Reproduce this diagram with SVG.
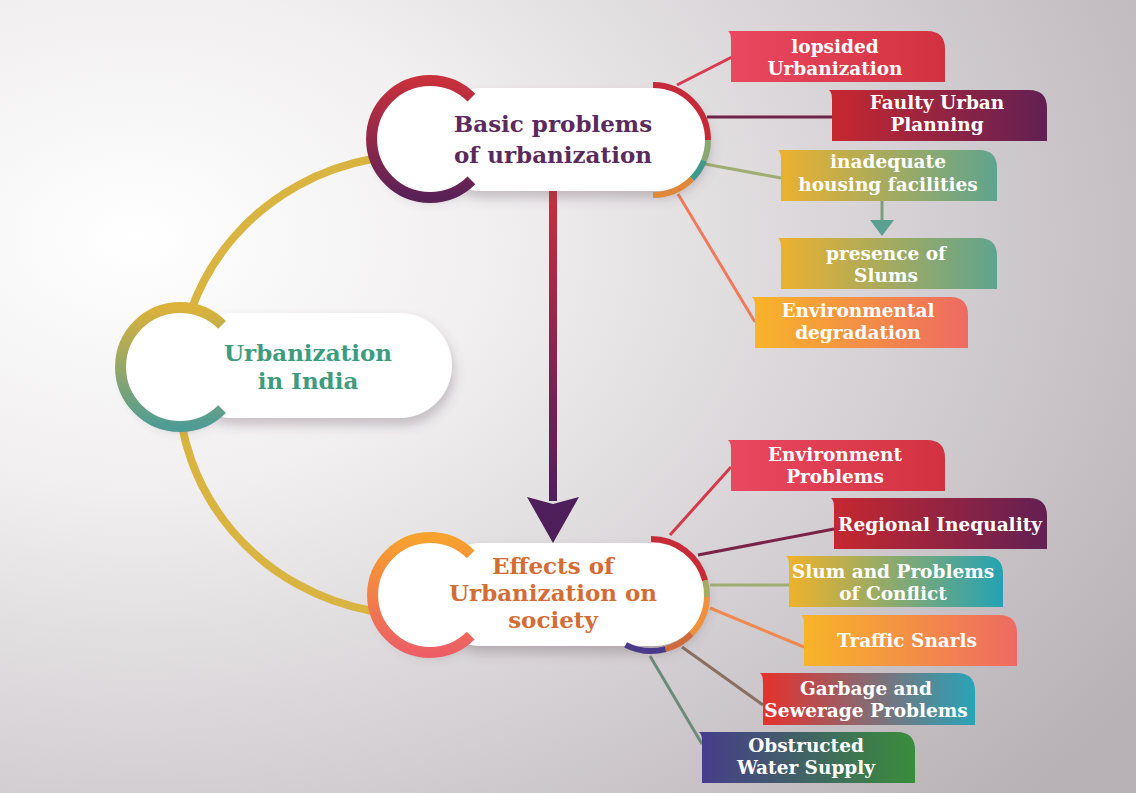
<svg xmlns="http://www.w3.org/2000/svg" width="1136" height="793" viewBox="0 0 1136 793">
<defs>
<radialGradient id="bg" cx="0.12" cy="0.3" r="1.05">
<stop offset="0" stop-color="#ffffff"/>
<stop offset="0.3" stop-color="#f1eff0"/>
<stop offset="1" stop-color="#b8b1b6"/>
</radialGradient>
<linearGradient id="gPink"><stop offset="0" stop-color="#e94861"/><stop offset="1" stop-color="#d2323f"/></linearGradient>
<linearGradient id="gRedPurple"><stop offset="0" stop-color="#c8282f"/><stop offset="1" stop-color="#622053"/></linearGradient>
<linearGradient id="gYellowTeal"><stop offset="0" stop-color="#ecb12e"/><stop offset="1" stop-color="#5fa48f"/></linearGradient>
<linearGradient id="gYellowSalmon"><stop offset="0" stop-color="#f8b528"/><stop offset="1" stop-color="#ee6a62"/></linearGradient>
<linearGradient id="gYellowCyan"><stop offset="0" stop-color="#f1b22a"/><stop offset="1" stop-color="#24a2b3"/></linearGradient>
<linearGradient id="gRedCyan"><stop offset="0" stop-color="#e8302b"/><stop offset="1" stop-color="#28a4b8"/></linearGradient>
<linearGradient id="gBlueGreen"><stop offset="0" stop-color="#473c8c"/><stop offset="1" stop-color="#3a8d3b"/></linearGradient>
<linearGradient id="ringTop" x1="0" y1="0" x2="0" y2="1"><stop offset="0" stop-color="#c8303c"/><stop offset="1" stop-color="#5a2157"/></linearGradient>
<linearGradient id="ringLeft" x1="0" y1="0" x2="0" y2="1"><stop offset="0" stop-color="#dcb23a"/><stop offset="1" stop-color="#4e9c95"/></linearGradient>
<linearGradient id="ringBottom" x1="0" y1="0" x2="0" y2="1"><stop offset="0" stop-color="#f7a22e"/><stop offset="1" stop-color="#ec5e64"/></linearGradient>
<linearGradient id="stem" x1="0" y1="0" x2="0" y2="1"><stop offset="0" stop-color="#c8303e"/><stop offset="0.5" stop-color="#8a2550"/><stop offset="1" stop-color="#4e1f5a"/></linearGradient>
<filter id="sh" x="-20%" y="-30%" width="140%" height="180%">
<feDropShadow dx="2" dy="7" stdDeviation="6" flood-color="#5a4a55" flood-opacity="0.3"/>
</filter>
<style>
.main{font-family:"DejaVu Serif","Liberation Serif",serif;font-weight:bold;font-size:23px;text-anchor:middle}
.bt{font-family:"DejaVu Serif","Liberation Serif",serif;font-weight:bold;font-size:18.5px;fill:#ffffff;text-anchor:middle}
.ln{fill:none;stroke-width:3}
.ring{fill:none;stroke-width:11}
.seg{fill:none;stroke-width:6}
</style>
</defs>
<rect x="0" y="0" width="1136" height="793" fill="url(#bg)"/>

<g id="connectors">
<path d="M372,159 A238,230 0 0 0 372,611" fill="none" stroke="#d9b441" stroke-width="8"/>
<line class="ln" x1="677" y1="85" x2="732" y2="57" stroke="#d83a50"/>
<line class="ln" x1="707" y1="117" x2="832" y2="117" stroke="#6e2447"/>
<line class="ln" x1="705" y1="164" x2="781" y2="178" stroke="#a0ad72"/>
<line class="ln" x1="678" y1="194" x2="755" y2="322" stroke="#f07a5c"/>
<line class="ln" x1="670" y1="535" x2="731" y2="467" stroke="#d23a4c"/>
<line class="ln" x1="698" y1="555" x2="834" y2="529" stroke="#7a2348"/>
<line class="ln" x1="710" y1="585" x2="789" y2="585" stroke="#a0ad72"/>
<line class="ln" x1="710" y1="608" x2="804" y2="647" stroke="#f08850"/>
<line class="ln" x1="682" y1="647" x2="763" y2="705" stroke="#8a6e60"/>
<line class="ln" x1="650" y1="656" x2="702" y2="744" stroke="#6a8a7a"/>
<rect x="549" y="191" width="8" height="310" fill="url(#stem)"/>
<polygon points="527,497 553,504 579,497 553,543" fill="#4e1f5a"/>
<rect x="880.5" y="201" width="3" height="21" fill="#7aa07a"/>
<polygon points="870,220 894,220 882,236" fill="#5b9f90"/>
</g>

<g id="node-urbanization-india">
<g filter="url(#sh)">
<circle cx="180" cy="367" r="56" fill="#ffffff"/>
<rect x="180" y="313" width="272" height="105" rx="52.5" fill="#ffffff"/>
</g>
<path class="ring" d="M222.1,324.9 A59.5,59.5 0 1 0 222.1,409.1" stroke="url(#ringLeft)"/>
<text class="main" fill="#3d9c7e"><tspan x="308" y="361">Urbanization</tspan><tspan x="308" y="389">in India</tspan></text>
</g>

<g id="node-basic-problems">
<g filter="url(#sh)">
<circle cx="430" cy="139" r="55" fill="#ffffff"/>
<rect x="430" y="88" width="278" height="103" rx="51.5" fill="#ffffff"/>
</g>
<path class="ring" d="M471.4,97.6 A58.5,58.5 0 1 0 471.4,180.4" stroke="url(#ringTop)"/>
<path class="seg" d="M653,85 A55,55 0 0 1 708,140" stroke="#c62a38"/>
<path class="seg" d="M708,140 A55,55 0 0 1 704,160.6" stroke="#8aa872"/>
<path class="seg" d="M704,160.6 A55,55 0 0 1 691.9,178.9" stroke="#3f9a8a"/>
<path class="seg" d="M691.9,178.9 A55,55 0 0 1 653,195" stroke="#e0883a"/>
<text class="main" fill="#5b2a5c"><tspan x="553" y="132">Basic problems</tspan><tspan x="553" y="163">of urbanization</tspan></text>
</g>

<g id="node-effects">
<g filter="url(#sh)">
<circle cx="430" cy="595" r="54" fill="#ffffff"/>
<rect x="430" y="543" width="275" height="103" rx="51.5" fill="#ffffff"/>
</g>
<path class="ring" d="M470.7,554.3 A57.5,57.5 0 1 0 470.7,635.7" stroke="url(#ringBottom)"/>
<path class="seg" d="M651,539 A56,56 0 0 1 705.1,580.5" stroke="#c82a38"/>
<path class="seg" d="M705.1,580.5 A56,56 0 0 1 707,597" stroke="#a8aa62"/>
<path class="seg" d="M707,597 A56,56 0 0 1 691.3,633.9" stroke="#f0903a"/>
<path class="seg" d="M691.3,633.9 A56,56 0 0 1 665.5,649.1" stroke="#d06a3a"/>
<path class="seg" d="M665.5,649.1 A56,56 0 0 1 625.6,644.9" stroke="#4a3a8a"/>
<text class="main" fill="#d46c36"><tspan x="553" y="574">Effects of</tspan><tspan x="553" y="601">Urbanization on</tspan><tspan x="553" y="628">society</tspan></text>
</g>

<g id="box-lopsided">
<path d="M728,31 H927 Q945,31 945,49 V82 H731 V41 Q731,33 728,31 Z" fill="url(#gPink)"/>
<text class="bt"><tspan x="835" y="53">lopsided</tspan><tspan x="835" y="75">Urbanization</tspan></text>
</g>
<g id="box-faulty">
<path d="M829,90 H1029 Q1047,90 1047,108 V141 H832 V100 Q832,92 829,90 Z" fill="url(#gRedPurple)"/>
<text class="bt"><tspan x="937" y="109">Faulty Urban</tspan><tspan x="937" y="131">Planning</tspan></text>
</g>
<g id="box-inadequate">
<path d="M778,150 H979 Q997,150 997,168 V201 H781 V160 Q781,152 778,150 Z" fill="url(#gYellowTeal)"/>
<text class="bt"><tspan x="888" y="168">inadequate</tspan><tspan x="888" y="191">housing facilities</tspan></text>
</g>
<g id="box-slums">
<path d="M778,238 H979 Q997,238 997,256 V289 H781 V248 Q781,240 778,238 Z" fill="url(#gYellowTeal)"/>
<text class="bt"><tspan x="886" y="260">presence of</tspan><tspan x="886" y="282">Slums</tspan></text>
</g>
<g id="box-env-degradation">
<path d="M752,297 H950 Q968,297 968,315 V348 H755 V307 Q755,299 752,297 Z" fill="url(#gYellowSalmon)"/>
<text class="bt"><tspan x="858" y="317">Environmental</tspan><tspan x="858" y="339">degradation</tspan></text>
</g>
<g id="box-env-problems">
<path d="M728,440 H927 Q945,440 945,458 V491 H731 V450 Q731,442 728,440 Z" fill="url(#gPink)"/>
<text class="bt"><tspan x="835" y="461">Environment</tspan><tspan x="835" y="483">Problems</tspan></text>
</g>
<g id="box-regional">
<path d="M831,498 H1029 Q1047,498 1047,516 V549 H834 V508 Q834,500 831,498 Z" fill="url(#gRedPurple)"/>
<text class="bt"><tspan x="940" y="531">Regional Inequality</tspan></text>
</g>
<g id="box-slum-conflict">
<path d="M786,556 H985 Q1003,556 1003,574 V607 H789 V566 Q789,558 786,556 Z" fill="url(#gYellowCyan)"/>
<text class="bt"><tspan x="893" y="578">Slum and Problems</tspan><tspan x="893" y="600">of Conflict</tspan></text>
</g>
<g id="box-traffic">
<path d="M801,615 H999 Q1017,615 1017,633 V666 H804 V625 Q804,617 801,615 Z" fill="url(#gYellowSalmon)"/>
<text class="bt"><tspan x="907" y="647">Traffic Snarls</tspan></text>
</g>
<g id="box-garbage">
<path d="M760,673 H957 Q975,673 975,691 V725 H763 V683 Q763,675 760,673 Z" fill="url(#gRedCyan)"/>
<text class="bt"><tspan x="866" y="695">Garbage and</tspan><tspan x="866" y="717">Sewerage Problems</tspan></text>
</g>
<g id="box-water">
<path d="M699,732 H897 Q915,732 915,750 V783 H702 V742 Q702,734 699,732 Z" fill="url(#gBlueGreen)"/>
<text class="bt"><tspan x="806" y="752">Obstructed</tspan><tspan x="806" y="774">Water Supply</tspan></text>
</g>
</svg>
